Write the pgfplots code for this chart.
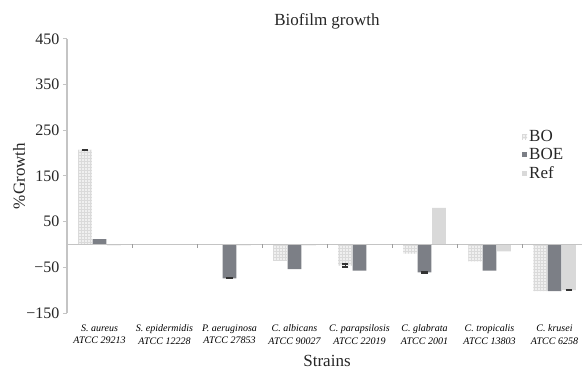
\documentclass[border=0pt]{standalone}
\usepackage{fontspec}
\setmainfont{Liberation Serif}
\usepackage{pgfplots}
\pgfplotsset{compat=1.18}
\usepackage{pgfplotstable}
\usetikzlibrary{patterns,calc}

\definecolor{boCol}{HTML}{F0F0F0}
\definecolor{boPat}{HTML}{DADADA}
\definecolor{boeCol}{HTML}{7C7F86}
\definecolor{refCol}{HTML}{D9D9D9}
\definecolor{axCol}{HTML}{C4C4C4}
\definecolor{errCol}{HTML}{333333}

% % growth per strain: BO, BOE and the reference
\pgfplotstableread{
x   bo    boe   ref
0   207   12    -2
1   0     0     0
2   0     -74   -2
3   -36   -54   -2
4   -46   -57   0
5   -20   -61   80
6   -37   -57   -15
7   -102  -102  -100
}\growth

\begin{document}
\begin{tikzpicture}
\begin{axis}[
  scale only axis,
  width=520pt, height=274pt,
  xmin=-0.5, xmax=7.5,
  ymin=-150, ymax=450,
  axis y line*=left,
  axis x line*=bottom,
  x axis line style={draw=none},
  y axis line style={draw=axCol, line width=1.3pt},
  ytick={-150,-50,50,150,250,350,450},
  yticklabels={−150,−50,50,150,250,350,450},
  tick align=outside,
  major y tick style={draw=axCol, line width=1pt},
  major tick length=4pt,
  major x tick style={draw=none},
  xtick={0,...,7},
  xticklabels={
    {S. aureus\\ATCC 29213},
    {S. epidermidis\\ATCC 12228},
    {P. aeruginosa\\ATCC 27853},
    {C. albicans\\ATCC 90027},
    {C. parapsilosis\\ATCC 22019},
    {C. glabrata\\ATCC 2001},
    {C. tropicalis\\ATCC 13803},
    {C. krusei\\ATCC 6258}},
  xticklabel style={font=\fontsize{10}{12.7}\selectfont\itshape, align=center, yshift=-4pt},
  yticklabel style={font=\fontsize{16}{18}\selectfont, text=black!85},
  /pgf/number format/assume math mode=true,
  title={Biofilm growth},
  title style={font=\fontsize{17}{20}\selectfont, text=black!85, at={(axis description cs:0.5,1)}, anchor=base, yshift=7pt},
  ylabel={\%Growth},
  ylabel style={font=\fontsize{17}{20}\selectfont, text=black!85, at={(axis description cs:-0.092,0.5)}, anchor=center},
  xlabel={Strains},
  xlabel style={font=\fontsize{17}{20}\selectfont, text=black!85, at={(axis description cs:0.5,0)}, anchor=base, yshift=-53pt},
  ybar, bar width=0.21,
  legend style={draw=none, fill=none, font=\fontsize{17}{19}\selectfont, text=black!85,
    at={(axis description cs:0.875,0.675)}, anchor=north west,
    row sep=1.5pt, inner sep=0pt},
  legend cell align=left,
  legend image code/.code={\path[#1, draw=none] (0pt,-2.5pt) rectangle (5pt,2.5pt);},
  error bars/error bar style={draw=errCol, line width=1pt},
  error bars/error mark options={draw=errCol, rotate=90, mark size=3.2pt, line width=1.3pt},
]
\addplot[bar shift=-0.222, draw=none, fill=boCol,
  postaction={pattern=grid, pattern color=boPat}] table[x=x, y=bo] {\growth};
\addplot[bar shift=0, draw=none, fill=boeCol] table[x=x, y=boe] {\growth};
\addplot[bar shift=0.222, draw=none, fill=refCol] table[x=x, y=ref] {\growth};
\legend{BO, BOE, Ref}

% error bars
\addplot[forget plot, bar shift=-0.222, draw=none, fill=none,
  error bars/.cd, y dir=both, y explicit]
  coordinates {(0,207) +- (0,1.5) (4,-46) +- (0,3)};
\addplot[forget plot, bar shift=0, draw=none, fill=none,
  error bars/.cd, y dir=both, y explicit]
  coordinates {(2,-74) +- (0,1.2) (5,-61) +- (0,1.2)};
\addplot[forget plot, bar shift=0.222, draw=none, fill=none,
  error bars/.cd, y dir=both, y explicit]
  coordinates {(7,-100) +- (0,1.2)};

% zero line with group separators
\draw[axCol, line width=1.3pt] (axis cs:-0.5,0) -- (axis cs:7.5,0);
\pgfplotsinvokeforeach{0.5,1.5,...,6.5}{
  \draw[axCol!80!black, line width=0.8pt] (axis cs:#1,0) -- ++(0pt,-4pt);
}
\coordinate (sw) at (rel axis cs:0,0);
\coordinate (ne) at (rel axis cs:1,1);
\end{axis}
\pgfresetboundingbox
\path[use as bounding box] ($(sw)+(-67pt,-58pt)$) rectangle ($(ne)+(-5pt,39pt)$);
\end{tikzpicture}
\end{document}
